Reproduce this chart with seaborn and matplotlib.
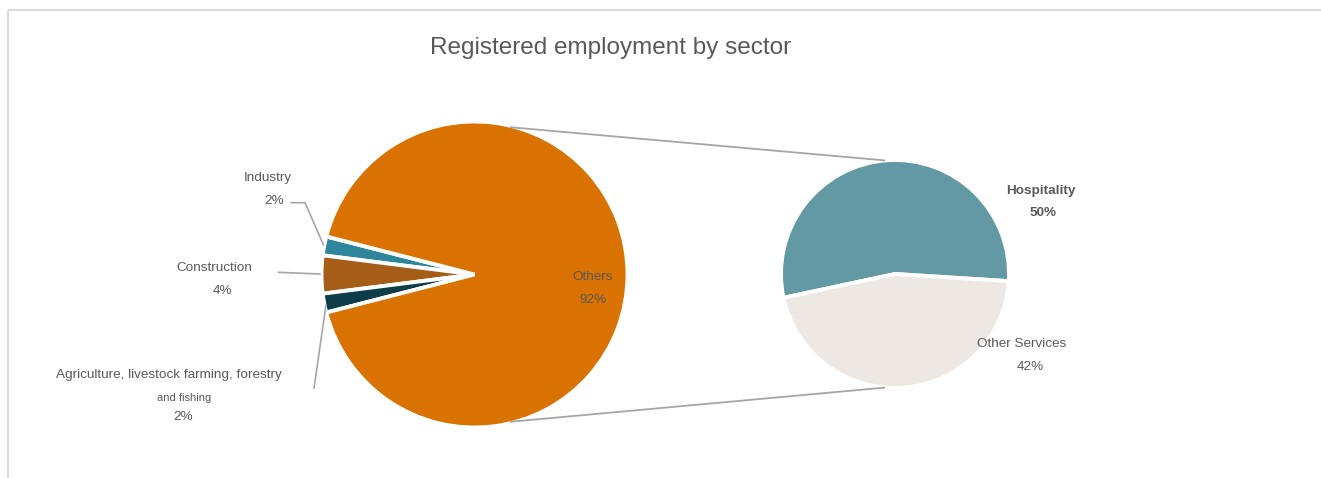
import numpy as np
import matplotlib
matplotlib.use("Agg")
import matplotlib.pyplot as plt
import seaborn as sns

# ---- data ----
main_labels = ["Industry", "Construction",
               "Agriculture, livestock farming, forestry and fishing", "Others"]
main_values = [2, 4, 2, 92]
sub_labels = ["Hospitality", "Other Services"]
sub_values = [50, 42]

title = "Registered employment by sector"

sns.set_theme(style="white")
plt.rcParams["font.family"] = ["Liberation Sans", "DejaVu Sans"]

W, H = 1321, 478
fig = plt.figure(figsize=(W / 100, H / 100), dpi=100)
ax = fig.add_axes([0, 0, 1, 1])

def Y(y):
    return H - y

main_colors = ["#2E869C", "#A65D17", "#0E3D4A", "#D97200"]
sub_colors = ["#6399A5", "#EDE8E3"]
txt = "#595959"
lead = "#A6A6A6"

main_c = (474.5, Y(274.5))
main_r = 153
small_total = sum(main_values[:3]) / sum(main_values) * 360
ax.pie(main_values, center=main_c, radius=main_r, colors=main_colors,
       startangle=180 - small_total / 2, counterclock=True,
       wedgeprops=dict(edgecolor="white", linewidth=2.8))

sub_c = (895, Y(274))
sub_r = 114
ax.pie(sub_values, center=sub_c, radius=sub_r, colors=sub_colors,
       startangle=-3.6, counterclock=True,
       wedgeprops=dict(edgecolor="white", linewidth=2.8))

ax.set_xlim(0, W)
ax.set_ylim(0, H)
ax.set_aspect("equal")
ax.axis("off")

# connector lines between pies
for a1, a2 in [(76.5, 95), (-76.5, -95)]:
    p1 = (main_c[0] + (main_r - 1.5) * np.cos(np.radians(a1)),
          main_c[1] + (main_r - 1.5) * np.sin(np.radians(a1)))
    p2 = (sub_c[0] + sub_r * np.cos(np.radians(a2)),
          sub_c[1] + sub_r * np.sin(np.radians(a2)))
    ax.plot([p1[0], p2[0]], [p1[1], p2[1]], color=lead, lw=1.3,
            solid_capstyle="butt")

fs = 9.7
# Title
ax.text(610.5, Y(48), title, ha="center", va="center", fontsize=17.5, color=txt)

# Industry
ax.text(268, Y(178), main_labels[0], ha="center", va="center", fontsize=fs, color=txt)
ax.text(274.5, Y(201), f"{main_values[0]}%", ha="center", va="center", fontsize=fs, color=txt)
ax.plot([291, 305, 323.5], [Y(202.7), Y(202.7), Y(245)], color=lead, lw=1.2)

# Construction
ax.text(214, Y(268), main_labels[1], ha="center", va="center", fontsize=fs, color=txt)
ax.text(222.7, Y(290.7), f"{main_values[1]}%", ha="center", va="center", fontsize=fs, color=txt)
ax.plot([278.3, 320], [Y(272.3), Y(274)], color=lead, lw=1.2)

# Agriculture
ax.text(168.8, Y(375), "Agriculture, livestock farming, forestry", ha="center",
        va="center", fontsize=fs, color=txt)
ax.text(184, Y(397.7), "and fishing", ha="center", va="center", fontsize=8.0, color=txt)
ax.text(182.7, Y(416.7), f"{main_values[2]}%", ha="center", va="center", fontsize=fs, color=txt)
ax.plot([314, 326], [Y(388.3), Y(305)], color=lead, lw=1.2)

# Others
ax.text(592.5, Y(277), main_labels[3], ha="center", va="center", fontsize=fs, color=txt)
ax.text(592.5, Y(300), f"{main_values[3]}%", ha="center", va="center", fontsize=fs, color=txt)

# Hospitality
ax.text(1041, Y(191), sub_labels[0], ha="center", va="center", fontsize=fs,
        color=txt, fontweight="bold")
ax.text(1043, Y(213), f"{sub_values[0]}%", ha="center", va="center", fontsize=fs,
        color=txt, fontweight="bold")

# Other services
ax.text(1021.3, Y(344), sub_labels[1], ha="center", va="center", fontsize=fs, color=txt)
ax.text(1030, Y(367.3), f"{sub_values[1]}%", ha="center", va="center", fontsize=fs, color=txt)

# chart border (top and left edges visible)
ax.plot([8, W], [Y(10), Y(10)], color="#D9D9D9", lw=1.5, solid_capstyle="butt")
ax.plot([8, 8], [Y(10), 0], color="#D9D9D9", lw=1.5, solid_capstyle="butt")

fig.savefig("out.png", dpi=100, facecolor="white")
